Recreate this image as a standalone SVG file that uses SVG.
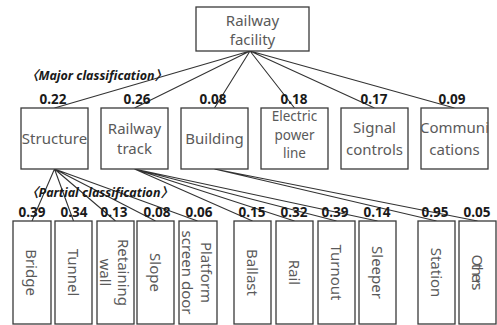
<svg xmlns="http://www.w3.org/2000/svg" width="497" height="325" viewBox="0 0 497 325">
<style>
.box{fill:#fff;stroke:#3a3a3a;stroke-width:1.3}
.lbl{font-family:"Noto Sans","Noto Sans CJK KR",sans-serif;font-size:15px;fill:#5a5a5a;text-anchor:middle}
.sm{font-size:13.5px}
.vl{font-family:"Noto Sans","Noto Sans CJK KR",sans-serif;font-size:15px;fill:#5a5a5a;text-anchor:middle;dominant-baseline:central}
.w{font-family:"Noto Sans","Liberation Sans",sans-serif;font-size:13.5px;font-weight:bold;fill:#1a1a1a;text-anchor:middle}
.cls{font-family:"Noto Sans","Noto Sans CJK KR",sans-serif;font-size:13px;font-weight:bold;font-style:italic;fill:#1a1a1a}
.ln{stroke:#333;stroke-width:1.1;fill:none}
</style>
<rect width="497" height="325" fill="#fff"/>
<g id="connectors">
<path class="ln" d="M250 51L54.5 108M250 51L134.5 108M250 51L214.5 108M250 51L294.5 108M250 51L374.5 108M250 51L454.5 108"/>
<path class="ln" d="M54.5 169L32 221M54.5 169L73.5 221M54.5 169L115.5 221M54.5 169L155.5 221M54.5 169L197.5 221"/>
<path class="ln" d="M134.5 169L252.5 221M134.5 169L294.5 221M134.5 169L336.5 221M134.5 169L377.5 221"/>
<path class="ln" d="M214.5 169L436.5 221M214.5 169L477.5 221"/>
</g>
<g id="root"><rect class="box" x="196" y="7" width="113" height="44"/><text class="lbl" x="252.5" y="26">Railway</text><text class="lbl" x="252.5" y="45">facility</text></g>
<text class="cls" x="26" y="80" textLength="141" lengthAdjust="spacingAndGlyphs">〈Major classification〉</text>
<g id="weights1">
<text class="w" x="53" y="104">0.22</text>
<text class="w" x="137" y="104">0.26</text>
<text class="w" x="213" y="104">0.08</text>
<text class="w" x="294" y="104">0.18</text>
<text class="w" x="374" y="104">0.17</text>
<text class="w" x="452" y="104">0.09</text>
</g>
<g id="structure"><rect class="box" x="21" y="108" width="67" height="61"/><text class="lbl" x="54.5" y="144">Structure</text></g>
<g id="railway-track"><rect class="box" x="101" y="108" width="67" height="61"/><text class="lbl" x="134.5" y="134">Railway</text><text class="lbl" x="134.5" y="154">track</text></g>
<g id="building"><rect class="box" x="181" y="108" width="67" height="61"/><text class="lbl" x="214.5" y="144">Building</text></g>
<g id="electric"><rect class="box" x="261" y="108" width="67" height="61"/><text class="lbl sm" x="294.5" y="121">Electric</text><text class="lbl sm" x="294.5" y="139.5">power</text><text class="lbl sm" x="294.5" y="158">line</text></g>
<g id="signal"><rect class="box" x="341" y="108" width="67" height="61"/><text class="lbl" x="374.5" y="133">Signal</text><text class="lbl" x="374.5" y="155">controls</text></g>
<g id="communications"><rect class="box" x="421" y="108" width="67" height="61"/><text class="lbl" x="454.5" y="133">Communi</text><text class="lbl" x="454.5" y="155">cations</text></g>
<text class="cls" x="26" y="197" textLength="147" lengthAdjust="spacingAndGlyphs">〈Partial classification〉</text>
<g id="weights2">
<text class="w" x="32" y="217">0.39</text>
<text class="w" x="74" y="217">0.34</text>
<text class="w" x="114" y="217">0.13</text>
<text class="w" x="157" y="217">0.08</text>
<text class="w" x="199" y="217">0.06</text>
<text class="w" x="252" y="217">0.15</text>
<text class="w" x="294" y="217">0.32</text>
<text class="w" x="335" y="217">0.39</text>
<text class="w" x="377" y="217">0.14</text>
<text class="w" x="435" y="217">0.95</text>
<text class="w" x="477" y="217">0.05</text>
</g>
<g id="bridge"><rect class="box" x="13" y="221" width="38" height="103"/><text class="vl" transform="translate(32,272.5) rotate(90)">Bridge</text></g>
<g id="tunnel"><rect class="box" x="55" y="221" width="37" height="103"/><text class="vl" transform="translate(73.5,272.5) rotate(90)">Tunnel</text></g>
<g id="retaining-wall"><rect class="box" x="97" y="221" width="37" height="103"/><text class="vl" transform="translate(115.5,272.5) rotate(90)"><tspan x="0" y="-8">Retaining</tspan><tspan x="0" y="10">wall</tspan></text></g>
<g id="slope"><rect class="box" x="137" y="221" width="37" height="103"/><text class="vl" transform="translate(155.5,272.5) rotate(90)">Slope</text></g>
<g id="platform-screen-door"><rect class="box" x="179" y="221" width="38" height="103"/><text class="vl" transform="translate(198,272.5) rotate(90)"><tspan x="0" y="-9">Platform</tspan><tspan x="0" y="10">screen door</tspan></text></g>
<g id="ballast"><rect class="box" x="234" y="221" width="37" height="103"/><text class="vl" transform="translate(252.5,272.5) rotate(90)">Ballast</text></g>
<g id="rail"><rect class="box" x="276" y="221" width="37" height="103"/><text class="vl" transform="translate(294.5,272.5) rotate(90)">Rail</text></g>
<g id="turnout"><rect class="box" x="318" y="221" width="37" height="103"/><text class="vl" transform="translate(336.5,272.5) rotate(90)">Turnout</text></g>
<g id="sleeper"><rect class="box" x="359" y="221" width="37" height="103"/><text class="vl" transform="translate(377.5,272.5) rotate(90)">Sleeper</text></g>
<g id="station"><rect class="box" x="418" y="221" width="37" height="103"/><text class="vl" transform="translate(436.5,272.5) rotate(90)">Station</text></g>
<g id="others"><rect class="box" x="459" y="221" width="37" height="103"/><text class="vl" transform="translate(477.5,272.5) rotate(90)" textLength="36" lengthAdjust="spacing">Others</text></g>
</svg>
